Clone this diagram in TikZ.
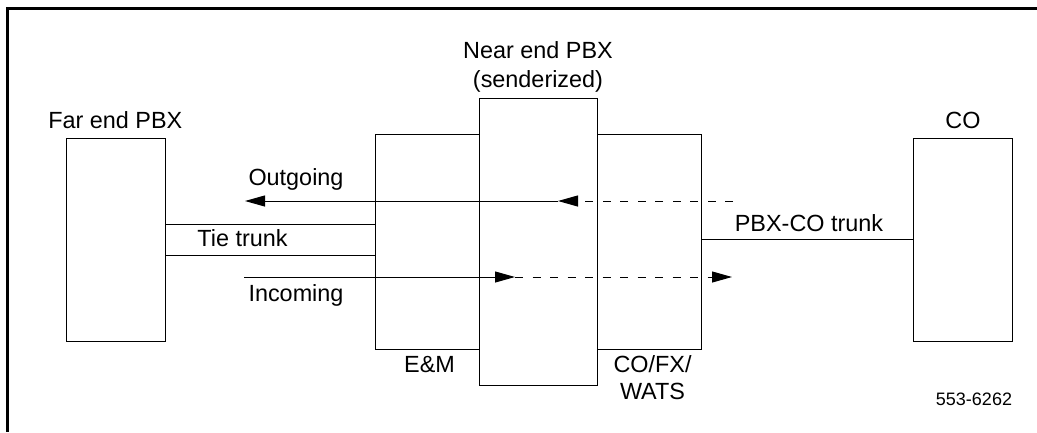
\documentclass[tikz,border=0pt]{standalone}
\usepackage{fontspec}
\setmainfont{Liberation Sans}
\usetikzlibrary{arrows.meta}

\tikzset{
  pbxbox/.style={draw, line width=1pt, inner sep=0pt, outer sep=0pt},
  lbl/.style={inner sep=0pt, anchor=base, align=center,
    font=\fontsize{23.4}{29}\selectfont},
  smalllbl/.style={inner sep=0pt, anchor=base, font=\fontsize{18}{22}\selectfont},
  trunk/.style={line width=1pt},
  flow/.style={line width=1pt, -{Triangle[length=20pt, width=11pt]}},
  flowdash/.style={flow, dash pattern=on 8pt off 9.5pt}
}

\begin{document}
\begin{tikzpicture}[x=1pt, y=-1pt]
  \useasboundingbox (0,0) rectangle (1037,432);
  % frame
  \draw[line width=3pt] (1037,8) -- (7.5,8) -- (7.5,432);

  % boxes
  \node[pbxbox, minimum width=99pt, minimum height=203pt] (farpbx) at (115.5,239.5) {};
  \node[pbxbox, minimum width=104pt, minimum height=215pt] (em) at (427,241.5) {};
  \node[pbxbox, minimum width=104pt, minimum height=215pt] (cofx) at (649,241.5) {};
  \node[pbxbox, minimum width=118pt, minimum height=287pt] (nearpbx) at (538,241.5) {};
  \node[pbxbox, minimum width=99pt, minimum height=203pt] (co) at (962.5,239.5) {};

  % labels (base = last line)
  \node[lbl] (farlbl) at (115.3,128.3) {Far end PBX};
  \node[lbl] (nearlbl) at (538,87.3) {Near end PBX\\(senderized)};
  \node[lbl] (colbl) at (963,128.3) {CO};
  \node[lbl] (emlbl) at (429.5,372.7) {E\&M};
  \node[lbl, font=\fontsize{23.4}{26.5}\selectfont] (cofxlbl) at (652.5,399) {CO/FX/\\WATS};
  \node[lbl] (outlbl) at (296,185.7) {Outgoing};
  \node[lbl] (inlbl) at (296,301.7) {Incoming};
  \node[lbl] (tielbl) at (242.5,246) {Tie trunk};
  \node[lbl] (cotrunklbl) at (809,231.7) {PBX-CO trunk};
  \node[smalllbl] (fignum) at (974,405) {553-6262};

  % trunks
  \draw[trunk] ([yshift=15.5pt]farpbx.east) -- ([yshift=15.5pt]farpbx.east -| em.west);
  \draw[trunk] ([yshift=-15.5pt]farpbx.east) -- ([yshift=-15.5pt]farpbx.east -| em.west);
  \draw[trunk] (co.west) -- (co.west -| cofx.east);

  % call directions
  \coordinate (outA) at (733,201);
  \coordinate (outB) at (558,201);
  \coordinate (outC) at (245,201);
  \coordinate (inA) at (244,277);
  \coordinate (inB) at (515,277);
  \coordinate (inC) at (732,277);
  \draw[flowdash] (outA) -- (outB);
  \draw[flow] (outB) -- (outC);
  \draw[flow] (inA) -- (inB);
  \draw[flowdash] (inB) -- (inC);
\end{tikzpicture}
\end{document}
